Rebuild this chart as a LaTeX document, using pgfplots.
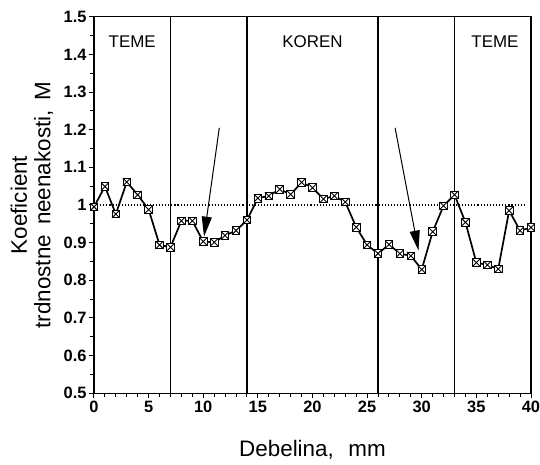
\documentclass[border=0pt]{standalone}
\usepackage{fontspec}
\setmainfont{Liberation Sans}
\usepackage{pgfplots}
\pgfplotsset{compat=1.18}
\usetikzlibrary{arrows.meta}

% square with a cross inside, as in the scanned plot
\pgfdeclareplotmark{boxx}{%
  \pgfpathrectangle{\pgfpoint{-\pgfplotmarksize}{-\pgfplotmarksize}}{\pgfpoint{2\pgfplotmarksize}{2\pgfplotmarksize}}%
  \pgfusepathqfillstroke
  \pgfpathmoveto{\pgfpoint{-\pgfplotmarksize}{-\pgfplotmarksize}}%
  \pgfpathlineto{\pgfpoint{\pgfplotmarksize}{\pgfplotmarksize}}%
  \pgfpathmoveto{\pgfpoint{-\pgfplotmarksize}{\pgfplotmarksize}}%
  \pgfpathlineto{\pgfpoint{\pgfplotmarksize}{-\pgfplotmarksize}}%
  \pgfusepathqstroke}

\begin{document}
\begin{tikzpicture}
\begin{axis}[
  scale only axis, width=437bp, height=376.6bp,
  xmin=0, xmax=40, ymin=0.5, ymax=1.5,
  xtick={0,5,...,40}, minor x tick num=4,
  ytick={0.5,0.6,...,1.5}, minor y tick num=1,
  yticklabels={0.5,0.6,0.7,0.8,0.9,1,1.1,1.2,1.3,1.4,1.5},
  tick align=outside, tick pos=left,
  major tick length=5bp, minor tick length=4bp,
  every tick/.style={black, line width=1bp},
  axis line style={line width=1.3bp},
  /pgf/number format/assume math mode=true,
  tick label style={font=\fontsize{16.5}{18}\selectfont\bfseries},
  yticklabel style={xshift=1bp},
  xticklabel style={yshift=1bp},
  xlabel={Debelina,\hspace{0.65em}mm},
  xlabel style={font=\fontsize{22.5}{25}\selectfont, at={(rel axis cs:0.5,0)}, anchor=center, yshift=-57bp},
  clip=false,
]
\coordinate (sw) at (rel axis cs:0,0);
\coordinate (ne) at (rel axis cs:1,1);

% y axis title, two lines
\node[rotate=90, align=center, font=\fontsize{22.5}{23.5}\selectfont]
  at (rel axis cs:-0.142,0.5) {Koeficient\\trdnostne\hspace{0.45em}neenakosti,\hspace{0.45em}M};

% zone boundaries
\addplot[black, line width=1.8bp] coordinates {(7,0.5)(7,1.5)};
\addplot[black, line width=1.8bp] coordinates {(14,0.5)(14,1.5)};
\addplot[black, line width=1.8bp] coordinates {(26,0.5)(26,1.5)};
\addplot[black, line width=1.8bp] coordinates {(33,0.5)(33,1.5)};

% reference level M = 1
\addplot[black, dotted, line width=1.1bp] coordinates {(0,1)(39.5,1)};

\node[font=\fontsize{17}{19}\selectfont] at (axis cs:3.5,1.434) {TEME};
\node[font=\fontsize{17}{19}\selectfont] at (axis cs:20,1.434) {KOREN};
\node[font=\fontsize{17}{19}\selectfont] at (axis cs:36.7,1.434) {TEME};

% measured values
\addplot[black, line width=1.7bp, mark=boxx, mark size=3.8bp,
  mark options={fill=white, line width=0.9bp, solid}] coordinates {
  (0,0.995) (1,1.049) (2,0.976) (3,1.061) (4,1.027) (5,0.988)
  (6,0.894) (7,0.888) (8,0.958) (9,0.958) (10,0.903) (11,0.901)
  (12,0.919) (13,0.932) (14,0.960) (15,1.018) (16,1.024) (17,1.042)
  (18,1.028) (19,1.060) (20,1.046) (21,1.016) (22,1.024) (23,1.008)
  (24,0.941) (25,0.894) (26,0.871) (27,0.895) (28,0.871) (29,0.865)
  (30,0.829) (31,0.929) (32,0.998) (33,1.027) (34,0.954) (35,0.847)
  (36,0.841) (37,0.830) (38,0.985) (39,0.932) (40,0.940)
};

% arrows pointing at the minima
\draw[line width=1bp, -{Triangle[length=20bp,width=10bp]}]
  (axis cs:11.47,1.205) -- (axis cs:10.07,0.916);
\draw[line width=1bp, -{Triangle[length=20bp,width=10bp]}]
  (axis cs:27.56,1.205) -- (axis cs:29.7,0.879);
\end{axis}
\pgfresetboundingbox
\path ([xshift=-94bp,yshift=-71.7bp]sw) rectangle ([xshift=9bp,yshift=16.7bp]ne);
\end{tikzpicture}
\end{document}
